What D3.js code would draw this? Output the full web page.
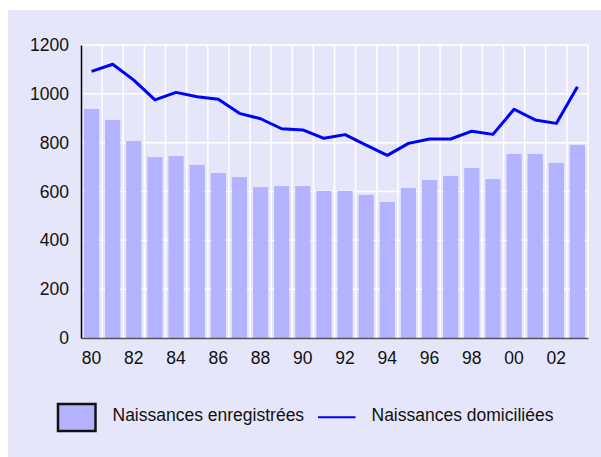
<!DOCTYPE html>
<html>
<head>
<meta charset="utf-8">
<script src="https://cdn.jsdelivr.net/npm/d3@7"></script>
<style>
  body { margin: 0; background: #fff; }
  text { font-family: "Liberation Sans", Arial, sans-serif; fill: #111; }
</style>
</head>
<body>
<svg id="chart" width="601" height="457"></svg>
<script>
// Years (two-digit labels)
const years = ["80","81","82","83","84","85","86","87","88","89","90","91",
               "92","93","94","95","96","97","98","99","00","01","02","03"];

// Naissances enregistrées (bars)
const registered = [938, 893, 807, 741, 745, 709, 676, 659, 618, 622, 622, 602,
                    602, 586, 557, 614, 647, 664, 696, 651, 754, 754, 717, 791];

// Naissances domiciliées (line)
const domiciled = [1092, 1121, 1056, 975, 1006, 988, 978, 920, 898, 857, 852, 818,
                   833, 790, 748, 797, 815, 815, 847, 834, 937, 893, 879, 1029];

const yTicks = [0, 200, 400, 600, 800, 1000, 1200];
const xTickLabels = ["80","82","84","86","88","90","92","94","96","98","00","02"];

const svg = d3.select("#chart");

// background panel
svg.append("rect")
    .attr("x", 8).attr("y", 10)
    .attr("width", 593).attr("height", 447)
    .attr("fill", "#e6e6fa");

const plotLeft = 81, plotRight = 588, plotTop = 45, plotBottom = 338;

let x = d3.scaleBand().domain(years).range([plotLeft, plotRight]).paddingInner(0.28).paddingOuter(0.14);
let xb = d3.scaleBand().domain(years).range([plotLeft, plotRight]);
let y = d3.scaleLinear().domain([0, 1200]).range([plotBottom, plotTop]);

// gridlines
svg.append("g")
    .selectAll("line")
    .data(yTicks.slice(1))
    .enter().append("line")
    .attr("x1", plotLeft).attr("x2", plotRight)
    .attr("y1", d => y(d)).attr("y2", d => y(d))
    .attr("stroke", "#fff").attr("stroke-width", 1.5);

svg.append("g")
    .selectAll("line")
    .data(years)
    .enter().append("line")
    .attr("x1", d => xb(d) + xb.bandwidth()).attr("x2", d => xb(d) + xb.bandwidth())
    .attr("y1", plotTop).attr("y2", plotBottom)
    .attr("stroke", "#fff").attr("stroke-width", 1.5);

// bars
svg.append("g")
    .selectAll("rect")
    .data(registered)
    .enter().append("rect")
    .attr("x", (d, i) => x(years[i]))
    .attr("width", x.bandwidth())
    .attr("y", d => y(d))
    .attr("height", d => plotBottom - y(d))
    .attr("fill", "#b3b3ff");

// line
let line = d3.line()
    .x((d, i) => xb(years[i]) + xb.bandwidth() / 2)
    .y(d => y(d));

svg.append("path")
    .datum(domiciled)
    .attr("fill", "none")
    .attr("stroke", "#0000ff")
    .attr("stroke-width", 3)
    .attr("stroke-linejoin", "round")
    .attr("d", line);

// y axis
let yAxis = svg.append("g")
    .attr("transform", `translate(${plotLeft},0)`)
    .call(d3.axisLeft(y).tickValues(yTicks).tickFormat(d3.format("d")).tickSize(0).tickPadding(12));
yAxis.attr("font-family", null);
yAxis.select(".domain").attr("stroke", "#000").attr("stroke-width", 1.5);
yAxis.selectAll("text").style("font-size", "17.5px").attr("fill", "#111");

// x axis
let xAxis = svg.append("g")
    .attr("transform", `translate(0,${plotBottom})`)
    .call(d3.axisBottom(xb).tickValues(xTickLabels).tickSize(0).tickPadding(14));
xAxis.attr("font-family", null);
xAxis.select(".domain").attr("stroke", "#555").attr("stroke-width", 1.5);
xAxis.selectAll("text").style("font-size", "17.5px").attr("fill", "#111");

// legend
svg.append("rect")
    .attr("x", 58).attr("y", 404)
    .attr("width", 37.5).attr("height", 27)
    .attr("fill", "#b3b3ff")
    .attr("stroke", "#111").attr("stroke-width", 2.5);
svg.append("text")
    .attr("x", 112.5).attr("y", 420.7)
    .style("font-size", "17.5px")
    .text("Naissances enregistrées");
svg.append("line")
    .attr("x1", 318).attr("x2", 355.5)
    .attr("y1", 417.3).attr("y2", 417.3)
    .attr("stroke", "#0000ff").attr("stroke-width", 2);
svg.append("text")
    .attr("x", 371.5).attr("y", 420.7)
    .style("font-size", "17.5px")
    .text("Naissances domiciliées");
</script>
</body>
</html>
